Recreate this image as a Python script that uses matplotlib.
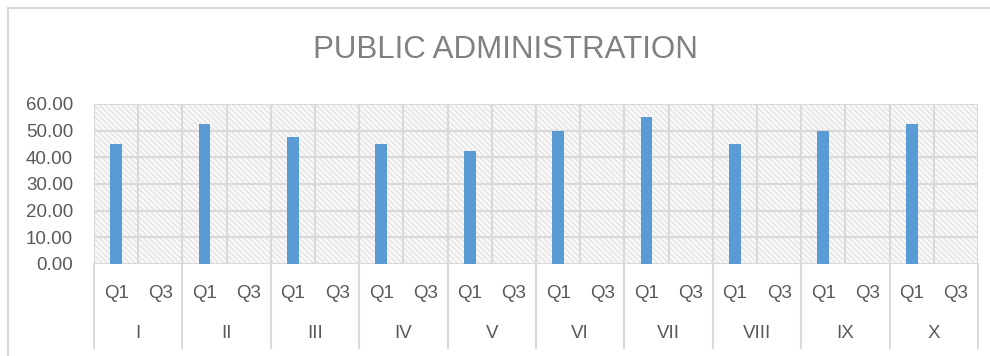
import numpy as np
import matplotlib.pyplot as plt
from matplotlib.patches import Rectangle
from matplotlib.lines import Line2D
import matplotlib.transforms as mtransforms

# data
groups = ["I", "II", "III", "IV", "V", "VI", "VII", "VIII", "IX", "X"]
quarters = ["Q1", "Q3"]
q1_values = [45.0, 52.5, 47.5, 45.0, 42.5, 50.0, 55.0, 45.0, 50.0, 52.5]
q3_values = [0, 0, 0, 0, 0, 0, 0, 0, 0, 0]
y_ticks = [0, 10, 20, 30, 40, 50, 60]

W, H = 990, 356
grid_col = "#d9d9d9"
text_col = "#595959"
bar_col = "#5b9bd5"

plt.rcParams["font.family"] = ["Liberation Sans", "DejaVu Sans"]
plt.rcParams["hatch.color"] = "#e6e6e6"
plt.rcParams["hatch.linewidth"] = 1.2

fig = plt.figure(figsize=(W / 100, H / 100), dpi=100)
fig.patch.set_facecolor("white")

# plot area in pixel coordinates
x0, x1, y_top, y_bot = 94, 978, 104, 264
ax = fig.add_axes([x0 / W, 1 - y_bot / H, (x1 - x0) / W, (y_bot - y_top) / H])

n_slots = len(groups) * len(quarters)
ax.set_xlim(0, n_slots)
ax.set_ylim(0, 60)

# hatched background
ax.add_patch(Rectangle((0, 0), 1, 1, transform=ax.transAxes, facecolor="#fafafa",
                       hatch="\\\\\\\\\\\\", edgecolor="#e6e6e6", linewidth=0, zorder=0))

# grid
for v in y_ticks:
    ax.axhline(v, color=grid_col, lw=1.5, zorder=1)
for s in range(n_slots + 1):
    ax.axvline(s, color=grid_col, lw=1.5, zorder=1)

# bars
q1_pos = np.arange(len(groups)) * 2 + 0.5
q3_pos = np.arange(len(groups)) * 2 + 1.5
ax.bar(q1_pos, q1_values, width=0.27, color=bar_col, zorder=3)
ax.bar(q3_pos, q3_values, width=0.27, color=bar_col, zorder=3)

for sp in ax.spines.values():
    sp.set_visible(False)
ax.set_xticks([])
ax.set_yticks(y_ticks)
ax.set_yticklabels([f"{v:.2f}" for v in y_ticks], fontsize=13.5, color=text_col)
ax.tick_params(axis="y", length=0, pad=15)

# category labels below the axis
trans = mtransforms.blended_transform_factory(ax.transData, fig.transFigure)
for i, g in enumerate(groups):
    for j, q in enumerate(quarters):
        ax.text(i * 2 + j + 0.5, 1 - 293 / H, q, transform=trans, ha="center",
                va="center", fontsize=13.5, color=text_col)
    ax.text(i * 2 + 1, 1 - 333 / H, g, transform=trans, ha="center",
            va="center", fontsize=13.5, color=text_col)
for b in range(len(groups) + 1):
    ax.add_line(Line2D([b * 2, b * 2], [1 - 264 / H, 1 - 348 / H], transform=trans,
                       color=grid_col, lw=1.5, clip_on=False))

# title
fig.text(505 / W, 1 - 50 / H, "PUBLIC ADMINISTRATION", ha="center", va="center",
         fontsize=22.5, color="#808080")

# chart border (left and top edges)
fig.add_artist(Line2D([8 / W, 8 / W], [1 - 8 / H, 0], transform=fig.transFigure,
                      color=grid_col, lw=1.5))
fig.add_artist(Line2D([8 / W, 1], [1 - 8 / H, 1 - 8 / H], transform=fig.transFigure,
                      color=grid_col, lw=1.5))

fig.savefig("out.png", dpi=100)
